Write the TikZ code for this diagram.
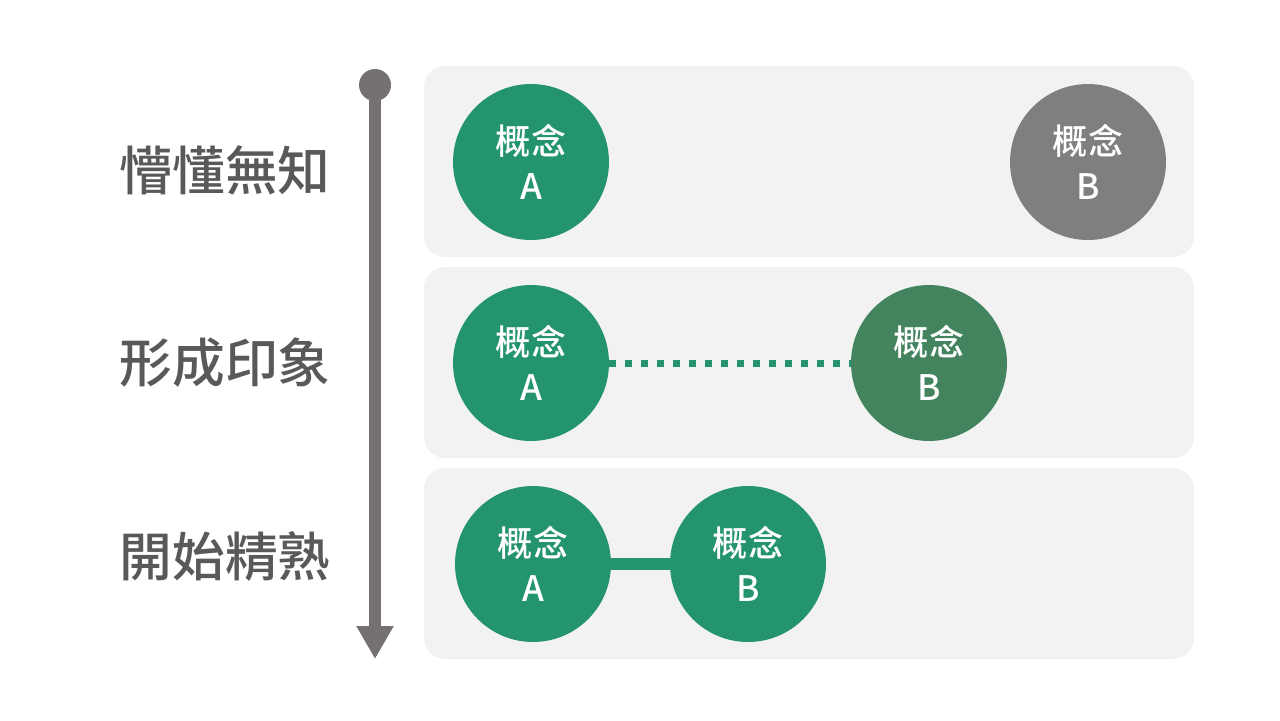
\documentclass[tikz,border=0pt]{standalone}
\usepackage{fontspec}
\setmainfont{Noto Sans CJK TC}[BoldFont={Noto Sans CJK TC Medium}]
\usetikzlibrary{arrows.meta}

\definecolor{panelgray}{HTML}{F2F2F2}
\definecolor{conceptgreen}{HTML}{239370}
\definecolor{darkgreen}{HTML}{43845F}
\definecolor{conceptgray}{HTML}{7F7F7F}
\definecolor{arrowgray}{HTML}{767171}
\definecolor{labelgray}{HTML}{595959}

\tikzset{
    concept/.style={circle, fill=conceptgreen, text=white, minimum size=3.12cm,
        inner sep=0pt, align=center, font=\fontsize{20}{25.5}\selectfont\bfseries},
    stagelabel/.style={text=labelgray, font=\fontsize{30}{34}\selectfont\bfseries},
    panel/.style={fill=panelgray, rounded corners=0.42cm}
}

\begin{document}
\begin{tikzpicture}[x=0.02cm, y=-0.02cm]
    \useasboundingbox (0,0) rectangle (1280,720);

    % Draw the panels
    \foreach \y in {66,267,468}
        \fill[panel] (424,\y) rectangle (1194,\y+191);

    % Draw the time arrow
    \coordinate (start) at (375,85);
    \coordinate (end) at (375,659);
    \draw[arrowgray, line width=0.24cm, -{Triangle[length=0.66cm, width=0.7cm]}] (start) -- (end);
    \fill[arrowgray] (start) circle (0.32cm);

    % Stage labels
    \node[stagelabel] (know) at (225,170) {懵懂無知};
    \node[stagelabel] (impress) at (225,363) {形成印象};
    \node[stagelabel] (master) at (225,557) {開始精熟};

    % Row 1: no link
    \node[concept] (a1) at (531,162) {概念\\A};
    \node[concept, fill=conceptgray] (b1) at (1088,162) {概念\\B};

    % Row 2: weak link
    \node[concept] (a2) at (531,363) {概念\\A};
    \node[concept, fill=darkgreen] (b2) at (929,363) {概念\\B};
    \draw[conceptgreen, line width=0.14cm, dash pattern=on 0.14cm off 0.18cm] (a2) -- (b2);

    % Row 3: strong link
    \node[concept] (a3) at (533,564) {概念\\A};
    \node[concept] (b3) at (748,564) {概念\\B};
    \draw[conceptgreen, line width=0.24cm] (a3) -- (b3);

\end{tikzpicture}
\end{document}
